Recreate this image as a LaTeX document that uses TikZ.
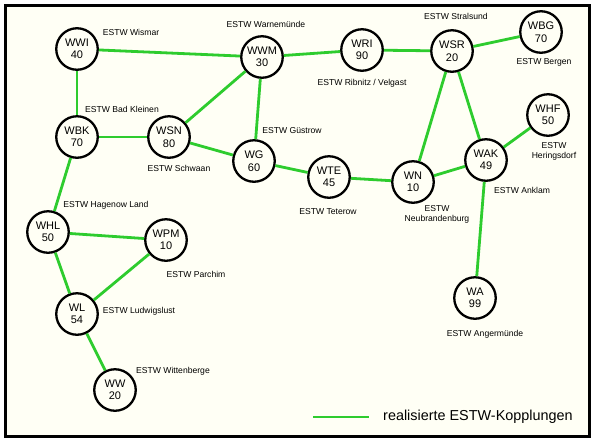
\documentclass[tikz,border=0pt]{standalone}
\usepackage{fontspec}
\setmainfont{Liberation Sans}
\definecolor{bg}{RGB}{255,255,245}
\definecolor{lk}{RGB}{46,204,46}
\begin{document}
\begin{tikzpicture}[x=1pt,y=-1pt,
  stw/.style={circle,draw=black,line width=2.3pt,fill=bg,minimum size=41.5pt,inner sep=0pt,
    font=\fontsize{11}{12.5}\selectfont,align=center},
  lab/.style={font=\fontsize{8.6}{10.5}\selectfont,align=center,inner sep=0pt},
  lnk/.style={draw=lk,line width=2.8pt}]
\useasboundingbox (0,0) rectangle (594,440);
\fill[white] (0,0) rectangle (594,440);
\draw[fill=bg,line width=2.6pt] (5.2,5.2) rectangle (589.6,436.4);
% nodes
\node[stw] (WWI) at (77,49) {WWI\\40};
\node[stw] (WWM) at (262,57) {WWM\\30};
\node[stw] (WBK) at (77,137) {WBK\\70};
\node[stw] (WSN) at (169,137) {WSN\\80};
\node[stw] (WG) at (254,161) {WG\\60};
\node[stw] (WRI) at (362,50) {WRI\\90};
\node[stw] (WSR) at (452,51) {WSR\\20};
\node[stw] (WBG) at (541,32) {WBG\\70};
\node[stw] (WHF) at (548,115) {WHF\\50};
\node[stw] (WAK) at (486,160) {WAK\\49};
\node[stw] (WN) at (413,182) {WN\\10};
\node[stw] (WTE) at (329,177) {WTE\\45};
\node[stw] (WHL) at (48,232) {WHL\\50};
\node[stw] (WPM) at (166,240) {WPM\\10};
\node[stw] (WL) at (77,314) {WL\\54};
\node[stw] (WW) at (115,390) {WW\\20};
\node[stw] (WA) at (475,298) {WA\\99};
% links
\path[lnk] (WWI) -- (WWM);
\path[lnk] (WWI) -- (WBK);
\path[lnk] (WBK) -- (WSN);
\path[lnk] (WBK) -- (WHL);
\path[lnk] (WSN) -- (WWM);
\path[lnk] (WSN) -- (WG);
\path[lnk] (WWM) -- (WG);
\path[lnk] (WWM) -- (WRI);
\path[lnk] (WRI) -- (WSR);
\path[lnk] (WSR) -- (WBG);
\path[lnk] (WSR) -- (WN);
\path[lnk] (WSR) -- (WAK);
\path[lnk] (WAK) -- (WHF);
\path[lnk] (WAK) -- (WN);
\path[lnk] (WAK) -- (WA);
\path[lnk] (WN) -- (WTE);
\path[lnk] (WTE) -- (WG);
\path[lnk] (WHL) -- (WPM);
\path[lnk] (WHL) -- (WL);
\path[lnk] (WPM) -- (WL);
\path[lnk] (WL) -- (WW);
% labels
\node[lab] (lWWI) at (131,32) {ESTW Wismar};
\node[lab] (lWWM) at (266,24) {ESTW Warnemünde};
\node[lab] (lWBK) at (122,109) {ESTW Bad Kleinen};
\node[lab] (lWSN) at (179,168) {ESTW Schwaan};
\node[lab] (lWG) at (292,131) {ESTW Güstrow};
\node[lab] (lWHL) at (106,205) {ESTW Hagenow Land};
\node[lab] (lWRI) at (362,83) {ESTW Ribnitz / Velgast};
\node[lab] (lWSR) at (456,16) {ESTW Stralsund};
\node[lab] (lWBG) at (544,62) {ESTW Bergen};
\node[lab] (lWHF) at (554,151.5) {ESTW\\Heringsdorf};
\node[lab] (lWAK) at (522,190) {ESTW Anklam};
\node[lab] (lWTE) at (328,212) {ESTW Teterow};
\node[lab] (lWN) at (437,214.5) {ESTW\\Neubrandenburg};
\node[lab] (lWPM) at (196,274) {ESTW Parchim};
\node[lab] (lWL) at (139,311) {ESTW Ludwigslust};
\node[lab] (lWW) at (173,371) {ESTW Wittenberge};
\node[lab] (lWA) at (485,334) {ESTW Angermünde};
% legend
\coordinate (legA) at (313,417);
\coordinate (legB) at (369,417);
\path[lnk] (legA) -- (legB);
\node[anchor=west,inner sep=0pt,font=\fontsize{14.4}{16}\selectfont] (leg) at (383,417) {realisierte ESTW-Kopplungen};
\end{tikzpicture}
\end{document}
